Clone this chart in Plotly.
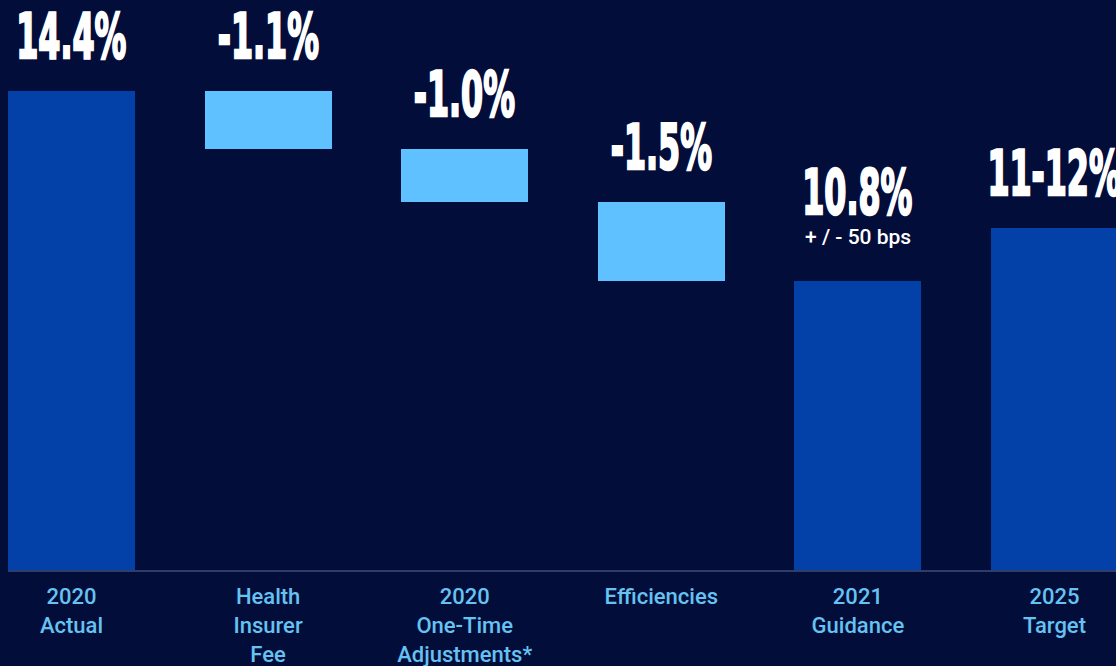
import plotly.graph_objects as go

# Operating margin bridge: 2020 actual -> 2021 guidance, plus 2025 target
categories = ["2020<br>Actual", "Health<br>Insurer<br>Fee", "2020<br>One-Time<br>Adjustments*",
              "Efficiencies", "2021<br>Guidance", "2025<br>Target"]
measures = ["absolute", "relative", "relative", "relative", "total", "absolute"]
values = [14.4, -1.1, -1.0, -1.5, 10.8, 11.8]
value_labels = ["14.4%", "-1.1%", "-1.0%", "-1.5%", "10.8%", "11-12%"]
sub_labels = ["", "", "", "", "+ / - 50 bps", ""]

BG = "#030d3a"
DARK = "#0340a8"
LIGHT = "#5fc1ff"
TICK = "#66c2f0"

Y_MIN, Y_MAX = 5.325, 16.125

x = list(range(len(categories)))
bases, heights, colors, tops = [], [], [], []
running = 0.0
for m, v in zip(measures, values):
    if m == "relative":
        bases.append(running)
        heights.append(v)
        colors.append(LIGHT)
        tops.append(running)
        running += v
    else:
        bases.append(0)
        heights.append(v)
        colors.append(DARK)
        tops.append(v)
        if len(bases) == 1:
            running = v

fig = go.Figure(go.Bar(
    x=x, y=heights, base=bases,
    marker=dict(color=colors, line=dict(width=0)),
    width=0.646, hoverinfo="skip",
))

big_font = dict(family="DejaVu Sans Condensed, DejaVu Sans, sans-serif",
                size=63, color="white", weight="bold")
for i, (lab, sub, top) in enumerate(zip(value_labels, sub_labels, tops)):
    shift = 16
    if sub:
        fig.add_annotation(x=i, y=top, text=sub, showarrow=False, yanchor="bottom",
                           yshift=30, font=dict(family="Roboto, Liberation Sans, sans-serif",
                                                size=21, color="white", weight=500))
        shift = 50
    fig.add_annotation(x=i, y=top, text=lab, showarrow=False, yanchor="bottom",
                       yshift=shift, font=big_font)

fig.update_layout(
    width=1116, height=666,
    margin=dict(l=8, r=0, t=0, b=96),
    paper_bgcolor=BG, plot_bgcolor=BG,
    showlegend=False, bargap=0,
    xaxis=dict(range=[-0.323, 5.313], tickvals=x, ticktext=categories,
               showgrid=False, zeroline=False, showline=True, automargin=False,
               linecolor="#2f3d6d", linewidth=2, ticks="", ticklabelstandoff=6,
               tickfont=dict(family="Roboto, Liberation Sans, sans-serif", size=22,
                             color=TICK, weight=500)),
    yaxis=dict(range=[Y_MIN, Y_MAX], visible=False, showgrid=False, zeroline=False,
               automargin=False),
)

# Headline percentages are set in a tall, tightly condensed face.
condense_js = """
var gd = document.getElementById('{plot_id}');
function condense() {
  gd.querySelectorAll('.annotation-text').forEach(function (t) {
    if (t.textContent.indexOf('%') >= 0) {
      t.style.transformBox = 'fill-box';
      t.style.transformOrigin = 'center';
      t.style.transform = 'scaleX(0.56)';
      t.style.stroke = 'white';
      t.style.strokeWidth = '2px';
      t.style.vectorEffect = 'non-scaling-stroke';
    }
  });
}
condense();
gd.on('plotly_afterplot', condense);
"""

fig.write_html("out.html", post_script=condense_js)
